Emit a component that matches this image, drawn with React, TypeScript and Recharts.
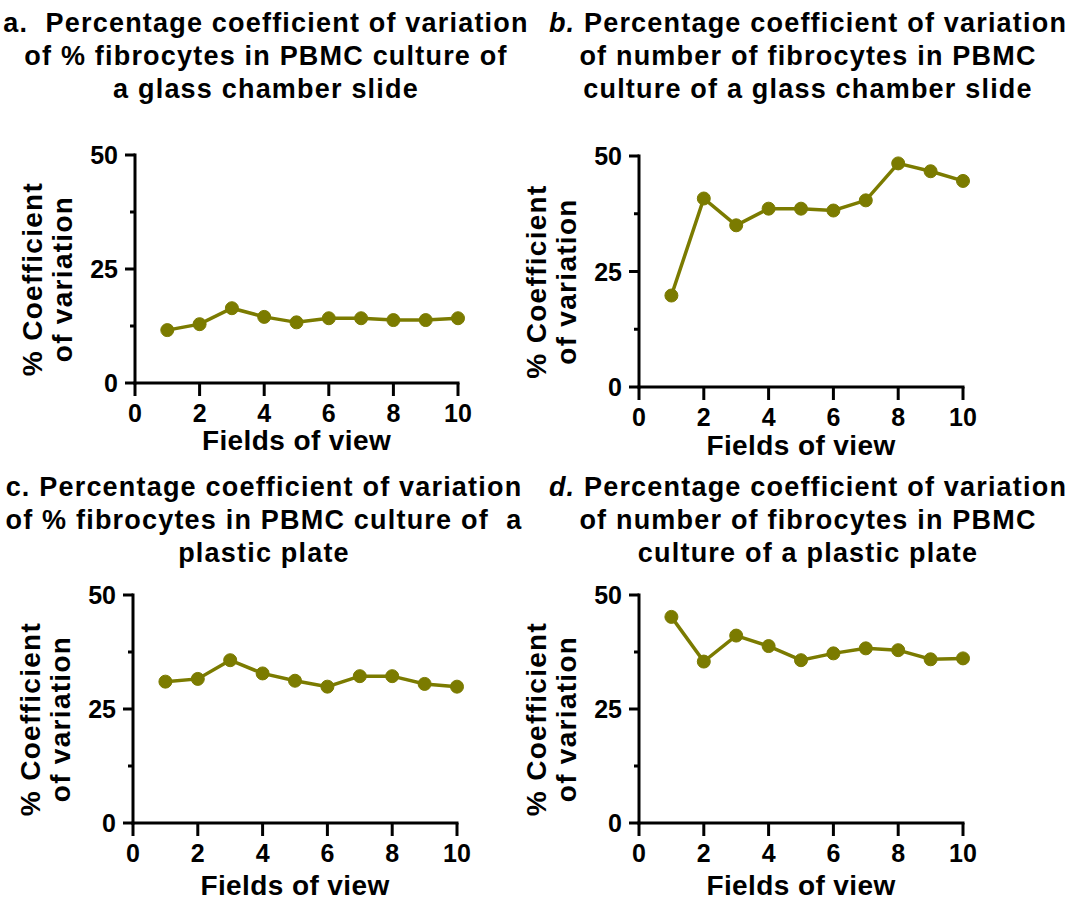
import React from 'react';
import { LineChart, Line, XAxis, YAxis, Label } from 'recharts';

// Fields of view sampled along the culture
const fields = [1, 2, 3, 4, 5, 6, 7, 8, 9, 10];

// % coefficient of variation per number of fields of view
const cvPercentGlass = [11.6, 12.9, 16.4, 14.5, 13.3, 14.2, 14.2, 13.8, 13.8, 14.2];
const cvNumberGlass = [19.8, 40.8, 35.0, 38.6, 38.6, 38.2, 40.4, 48.4, 46.7, 44.6];
const cvPercentPlastic = [31.0, 31.6, 35.7, 32.8, 31.2, 29.9, 32.2, 32.2, 30.5, 29.9];
const cvNumberPlastic = [45.2, 35.4, 41.1, 38.8, 35.7, 37.2, 38.3, 37.9, 35.9, 36.1];

const xTicks = [0, 2, 4, 6, 8, 10];
const yMajorTicks = [0, 25, 50];
const yMinorTicks = [12.5, 37.5];

const NB = '\u00a0';
const titleA = [`a.${NB} Percentage coefficient of variation`, 'of % fibrocytes in PBMC culture of', 'a glass chamber slide'];
const titleB = ['Percentage coefficient of variation', 'of number of fibrocytes in PBMC', 'culture of a glass chamber slide'];
const titleC = ['c. Percentage coefficient of variation', `of % fibrocytes in PBMC culture of${NB} a`, 'plastic plate'];
const titleD = ['Percentage coefficient of variation', 'of number of fibrocytes in PBMC', 'culture of a plastic plate'];

const OLIVE = '#7b7b00';
const FONT = '"Liberation Sans", Arial, Helvetica, sans-serif';

const toRows = (values: number[]) => fields.map((f, i) => ({ field: f, cv: values[i] }));

function YTick(props: any) {
  const { x, y, payload } = props;
  const major = yMajorTicks.includes(payload.value);
  const len = major ? 10 : 5;
  return (
    <g>
      <line x1={x - len} x2={x} y1={y} y2={y} stroke="#000" strokeWidth={3} />
      {major && (
        <text
          x={x - 17}
          y={y}
          textAnchor="end"
          dominantBaseline="central"
          fontSize={25}
          fontWeight="bold"
          fontFamily={FONT}
          fill="#000"
        >
          {payload.value}
        </text>
      )}
    </g>
  );
}

type PanelProps = {
  values: number[];
  axisLeft: number;
  plotTop: number;
  plotW: number;
  plotH: number;
  xLabelOffset: number;
};

const Y_AXIS_W = 135;
const TOP = 25;
const RIGHT = 30;
const BOTTOM = 95;
const X_AXIS_H = 60;

function Panel({ values, axisLeft, plotTop, plotW, plotH, xLabelOffset }: PanelProps) {
  const width = Y_AXIS_W + plotW + RIGHT;
  const height = TOP + plotH + BOTTOM;
  return (
    <div style={{ position: 'absolute', left: axisLeft - Y_AXIS_W, top: plotTop - TOP, width, height }}>
      <LineChart
        width={width}
        height={height}
        data={toRows(values)}
        margin={{ top: TOP, right: RIGHT, bottom: BOTTOM - X_AXIS_H, left: 0 }}
        style={{ overflow: 'visible' }}
      >
        <XAxis
          type="number"
          dataKey="field"
          domain={[0, 10]}
          ticks={xTicks}
          interval={0}
          height={X_AXIS_H}
          tickSize={13}
          tickMargin={8}
          axisLine={{ stroke: '#000', strokeWidth: 3, strokeLinecap: 'square' }}
          tickLine={{ stroke: '#000', strokeWidth: 3 }}
          tick={{ fontSize: 25, fontWeight: 'bold', fill: '#000', fontFamily: FONT }}
        >
          <Label
            content={(p: any) => {
              const vb = p.viewBox;
              return (
                <text
                  x={vb.x + vb.width / 2}
                  y={vb.y + xLabelOffset}
                  textAnchor="middle"
                  fontSize={28}
                  fontWeight="bold"
                  fontFamily={FONT}
                  letterSpacing={0.4}
                  fill="#000"
                >
                  Fields of view
                </text>
              );
            }}
          />
        </XAxis>
        <YAxis
          type="number"
          domain={[0, 50]}
          ticks={[...yMajorTicks, ...yMinorTicks].sort((a, b) => a - b)}
          interval={0}
          width={Y_AXIS_W}
          tickSize={0}
          tickMargin={0}
          tickLine={false}
          axisLine={{ stroke: '#000', strokeWidth: 3, strokeLinecap: 'square' }}
          tick={<YTick />}
        >
          <Label
            content={(p: any) => {
              const vb = p.viewBox;
              const right = vb.x + vb.width;
              const cy = vb.y + vb.height / 2 + 10;
              const common = {
                textAnchor: 'middle' as const,
                fontSize: 28,
                fontWeight: 'bold' as const,
                fontFamily: FONT,
                letterSpacing: 1.3,
                fill: '#000',
              };
              return (
                <g>
                  <text transform={`translate(${right - 93},${cy}) rotate(-90)`} {...common}>
                    % Coefficient
                  </text>
                  <text transform={`translate(${right - 63},${cy}) rotate(-90)`} {...common}>
                    of variation
                  </text>
                </g>
              );
            }}
          />
        </YAxis>
        <Line
          type="linear"
          dataKey="cv"
          stroke={OLIVE}
          strokeWidth={3.5}
          dot={{ r: 6.5, fill: OLIVE, stroke: OLIVE, strokeWidth: 1 }}
          isAnimationActive={false}
        />
      </LineChart>
    </div>
  );
}

function Title({ lines, cx, y0, italicPrefix }: { lines: string[]; cx: number; y0: number; italicPrefix?: string }) {
  return (
    <g>
      {lines.map((line, i) => (
        <text
          key={i}
          x={cx}
          y={y0 + i * 33}
          textAnchor="middle"
          fontSize={27}
          fontWeight="bold"
          fontFamily={FONT}
          letterSpacing={1.2}
          fill="#000"
        >
          {i === 0 && italicPrefix ? <tspan fontStyle="italic">{italicPrefix}</tspan> : null}
          {line}
        </text>
      ))}
    </g>
  );
}

export default function App() {
  return (
    <div style={{ position: 'absolute', left: 0, top: 0, width: 1069, height: 903, background: '#fff', overflow: 'hidden' }}>
      <svg width={1069} height={903} style={{ position: 'absolute', left: 0, top: 0 }}>
        <Title lines={titleA} cx={266} y0={32} />
        <Title lines={titleB} cx={808} y0={32} italicPrefix={`b.${NB}`} />
        <Title lines={titleC} cx={264} y0={496} />
        <Title lines={titleD} cx={808} y0={496} italicPrefix={`d.${NB}`} />
      </svg>
      <Panel values={cvPercentGlass} axisLeft={135} plotTop={155} plotW={323} plotH={228} xLabelOffset={67} />
      <Panel values={cvNumberGlass} axisLeft={639} plotTop={156} plotW={324} plotH={231} xLabelOffset={68} />
      <Panel values={cvPercentPlastic} axisLeft={133} plotTop={595} plotW={324} plotH={228} xLabelOffset={72} />
      <Panel values={cvNumberPlastic} axisLeft={639} plotTop={595} plotW={324} plotH={228} xLabelOffset={72} />
    </div>
  );
}
